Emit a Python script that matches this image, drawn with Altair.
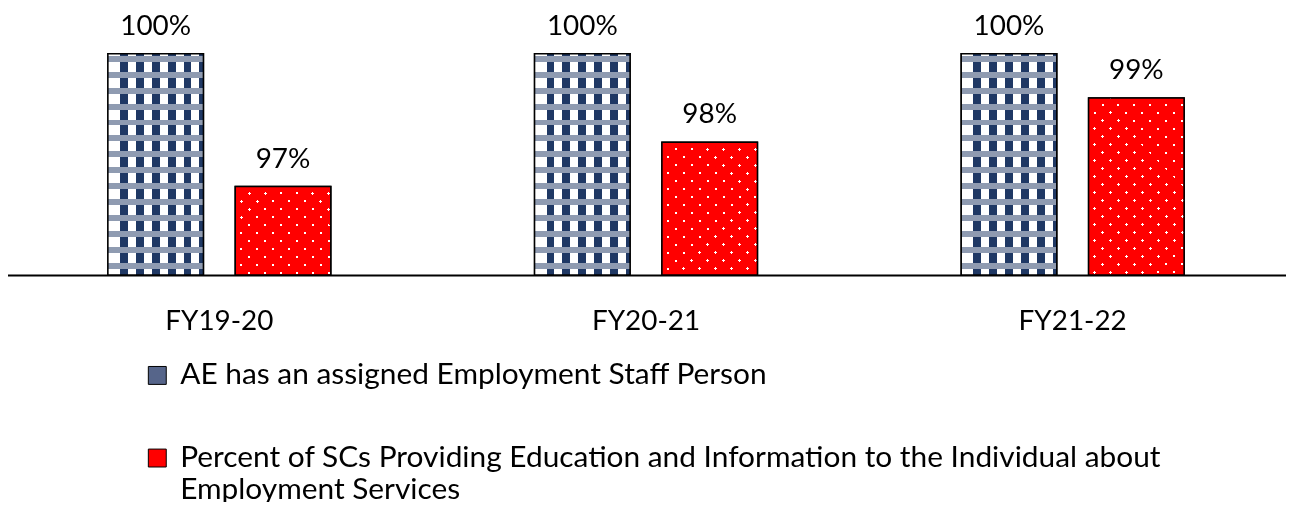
import altair as alt
import pandas as pd

# ---------------- data ----------------
years = ["FY19-20", "FY20-21", "FY21-22"]
series = [
    "AE has an assigned Employment Staff Person",
    "Percent of SCs Providing Education and Information to the Individual about Employment Services",
]
staff_values = [1.00, 1.00, 1.00]
sc_values = [0.97, 0.98, 0.99]
legend_lines = [
    ["AE has an assigned Employment Staff Person"],
    ["Percent of SCs Providing Education and Information to the Individual about", "Employment Services"],
]

rows = []
for i, yr in enumerate(years):
    rows.append({"year": yr, "series": series[0], "value": staff_values[i]})
    rows.append({"year": yr, "series": series[1], "value": sc_values[i]})
df = pd.DataFrame(rows)

# ---------------- style ----------------
NAVY = "#1f3864"
MID = "#8f9bb1"
RED = "#ff0000"
LEGEND_NAVY = "#56658a"
FONT = "Lato"
W, H = 1286, 267
YMIN, YMAX = 0.95, 1.0101
BAR_W = 96.0


def bar_height(v):
    return H * (v - YMIN) / (YMAX - YMIN)


def stripe_stops(length, first, width, period, on, off):
    stops = [{"offset": 0, "color": off}]
    s = first
    while s < length:
        if s + width > 0:
            a = max(0.0, s) / length
            b = min(length, s + width) / length
            stops += [
                {"offset": a, "color": off},
                {"offset": a, "color": on},
                {"offset": b, "color": on},
                {"offset": b, "color": off},
            ]
        s += period
    stops.append({"offset": 1, "color": off})
    return stops


def diag_gradient(w, h, c, rising):
    """Stripes along x+y (rising) or x-y (falling), in pixel units of the bar box."""
    k = (w + h) / (w * w + h * h)
    total = w + h
    if rising:
        g = {"gradient": "linear", "x1": 0, "y1": 0, "x2": k * w, "y2": k * h}
        first = c - 1.5
    else:
        g = {"gradient": "linear", "x1": 0, "y1": 1, "x2": k * w, "y2": 1 - k * h}
        first = c - 1.5 + h  # t measures x - y + h
        first = first - 16 * int(first // 16) - 16
    g["stops"] = stripe_stops(total, first, 3, 16, "#ffffff", "#000000")
    return g


grad_cols = {"gradient": "linear", "x1": 0, "y1": 0, "x2": 1, "y2": 0,
             "stops": stripe_stops(BAR_W, 12, 8, 16, NAVY, "#ffffff")}
grad_rows = {"gradient": "linear", "x1": 0, "y1": 0, "x2": 0, "y2": 1,
             "stops": stripe_stops(bar_height(1.0), 2, 6, 16, MID, "rgba(255,255,255,0)")}

x_enc = alt.X("year:N", sort=years, title=None,
              scale=alt.Scale(paddingInner=0, paddingOuter=0),
              axis=alt.Axis(labelAngle=0, labelFont=FONT, labelFontSize=28, labelColor="black",
                            ticks=False, tickSize=0, labelPadding=33, domainColor="black",
                            domainWidth=2, grid=False))
xo_enc = alt.XOffset("series:N", sort=series,
                     scale=alt.Scale(domain=series, paddingInner=0.25, paddingOuter=0.8))
y_enc = alt.Y("value:Q", axis=None,
              scale=alt.Scale(domain=[YMIN, YMAX], nice=False, zero=False))
y2_enc = alt.datum(YMIN)

sep = "', '"
label_expr = " : ".join(
    f"datum.label == '{series[i]}' ? ['{sep.join(legend_lines[i])}']" for i in range(len(series))
) + " : datum.label"

base = alt.Chart(df).mark_bar(stroke="black", strokeWidth=1.5).encode(
    x=x_enc, xOffset=xo_enc, y=y_enc, y2=y2_enc,
    color=alt.Color("series:N", sort=series,
                    scale=alt.Scale(domain=series, range=[LEGEND_NAVY, RED]),
                    legend=alt.Legend(orient="none", legendX=137, legendY=353, title=None,
                                      direction="vertical", symbolType="square", symbolSize=324,
                                      symbolStrokeColor="black", symbolStrokeWidth=1,
                                      labelFont=FONT, labelFontSize=30, labelColor="black",
                                      labelLimit=0, labelOffset=8, rowPadding=53, padding=0,
                                      labelExpr=label_expr)),
)

layers = [base]

# checkered fill of the first series
layers.append(alt.Chart(df).transform_filter(alt.datum.series == series[0])
              .mark_bar(fill=grad_cols)
              .encode(x=x_enc, xOffset=xo_enc, y=y_enc, y2=y2_enc))
layers.append(alt.Chart(df).transform_filter(alt.datum.series == series[0])
              .mark_bar(fill=grad_rows, stroke="black", strokeWidth=1.5)
              .encode(x=x_enc, xOffset=xo_enc, y=y_enc, y2=y2_enc))

# dotted fill of the second series (mask of white dots, screened with red)
for i, yr in enumerate(years):
    h = bar_height(sc_values[i])
    sel = (alt.datum.series == series[1]) & (alt.datum.year == yr)
    layers.append(alt.Chart(df).transform_filter(sel)
                  .mark_bar(fill=diag_gradient(BAR_W, h, 5, True))
                  .encode(x=x_enc, xOffset=xo_enc, y=y_enc, y2=y2_enc))
    layers.append(alt.Chart(df).transform_filter(sel)
                  .mark_bar(fill=diag_gradient(BAR_W, h, 7, False), blend="multiply")
                  .encode(x=x_enc, xOffset=xo_enc, y=y_enc, y2=y2_enc))
layers.append(alt.Chart(df).transform_filter(alt.datum.series == series[1])
              .mark_bar(fill=RED, blend="screen")
              .encode(x=x_enc, xOffset=xo_enc, y=y_enc, y2=y2_enc))
layers.append(alt.Chart(df).transform_filter(alt.datum.series == series[1])
              .mark_bar(fill="transparent", stroke="black", strokeWidth=1.5)
              .encode(x=x_enc, xOffset=xo_enc, y=y_enc, y2=y2_enc))

layers.append(alt.Chart(df).mark_text(font=FONT, fontSize=28, color="black", baseline="alphabetic",
                                      dy=-19)
              .encode(x=x_enc, xOffset=xo_enc, y=y_enc, text=alt.Text("value:Q", format=".0%")))

chart = alt.layer(*layers).properties(
    width=W, height=H,
    padding={"left": -2, "top": 0, "right": 0, "bottom": 227},
    autosize=alt.AutoSizeParams(type="none"),
    background="white",
).configure(
    view={"stroke": None},
    style={"guide-label": {"lineHeight": 32}},
)

chart.save("out.html", embed_options={"renderer": "svg", "actions": False})
